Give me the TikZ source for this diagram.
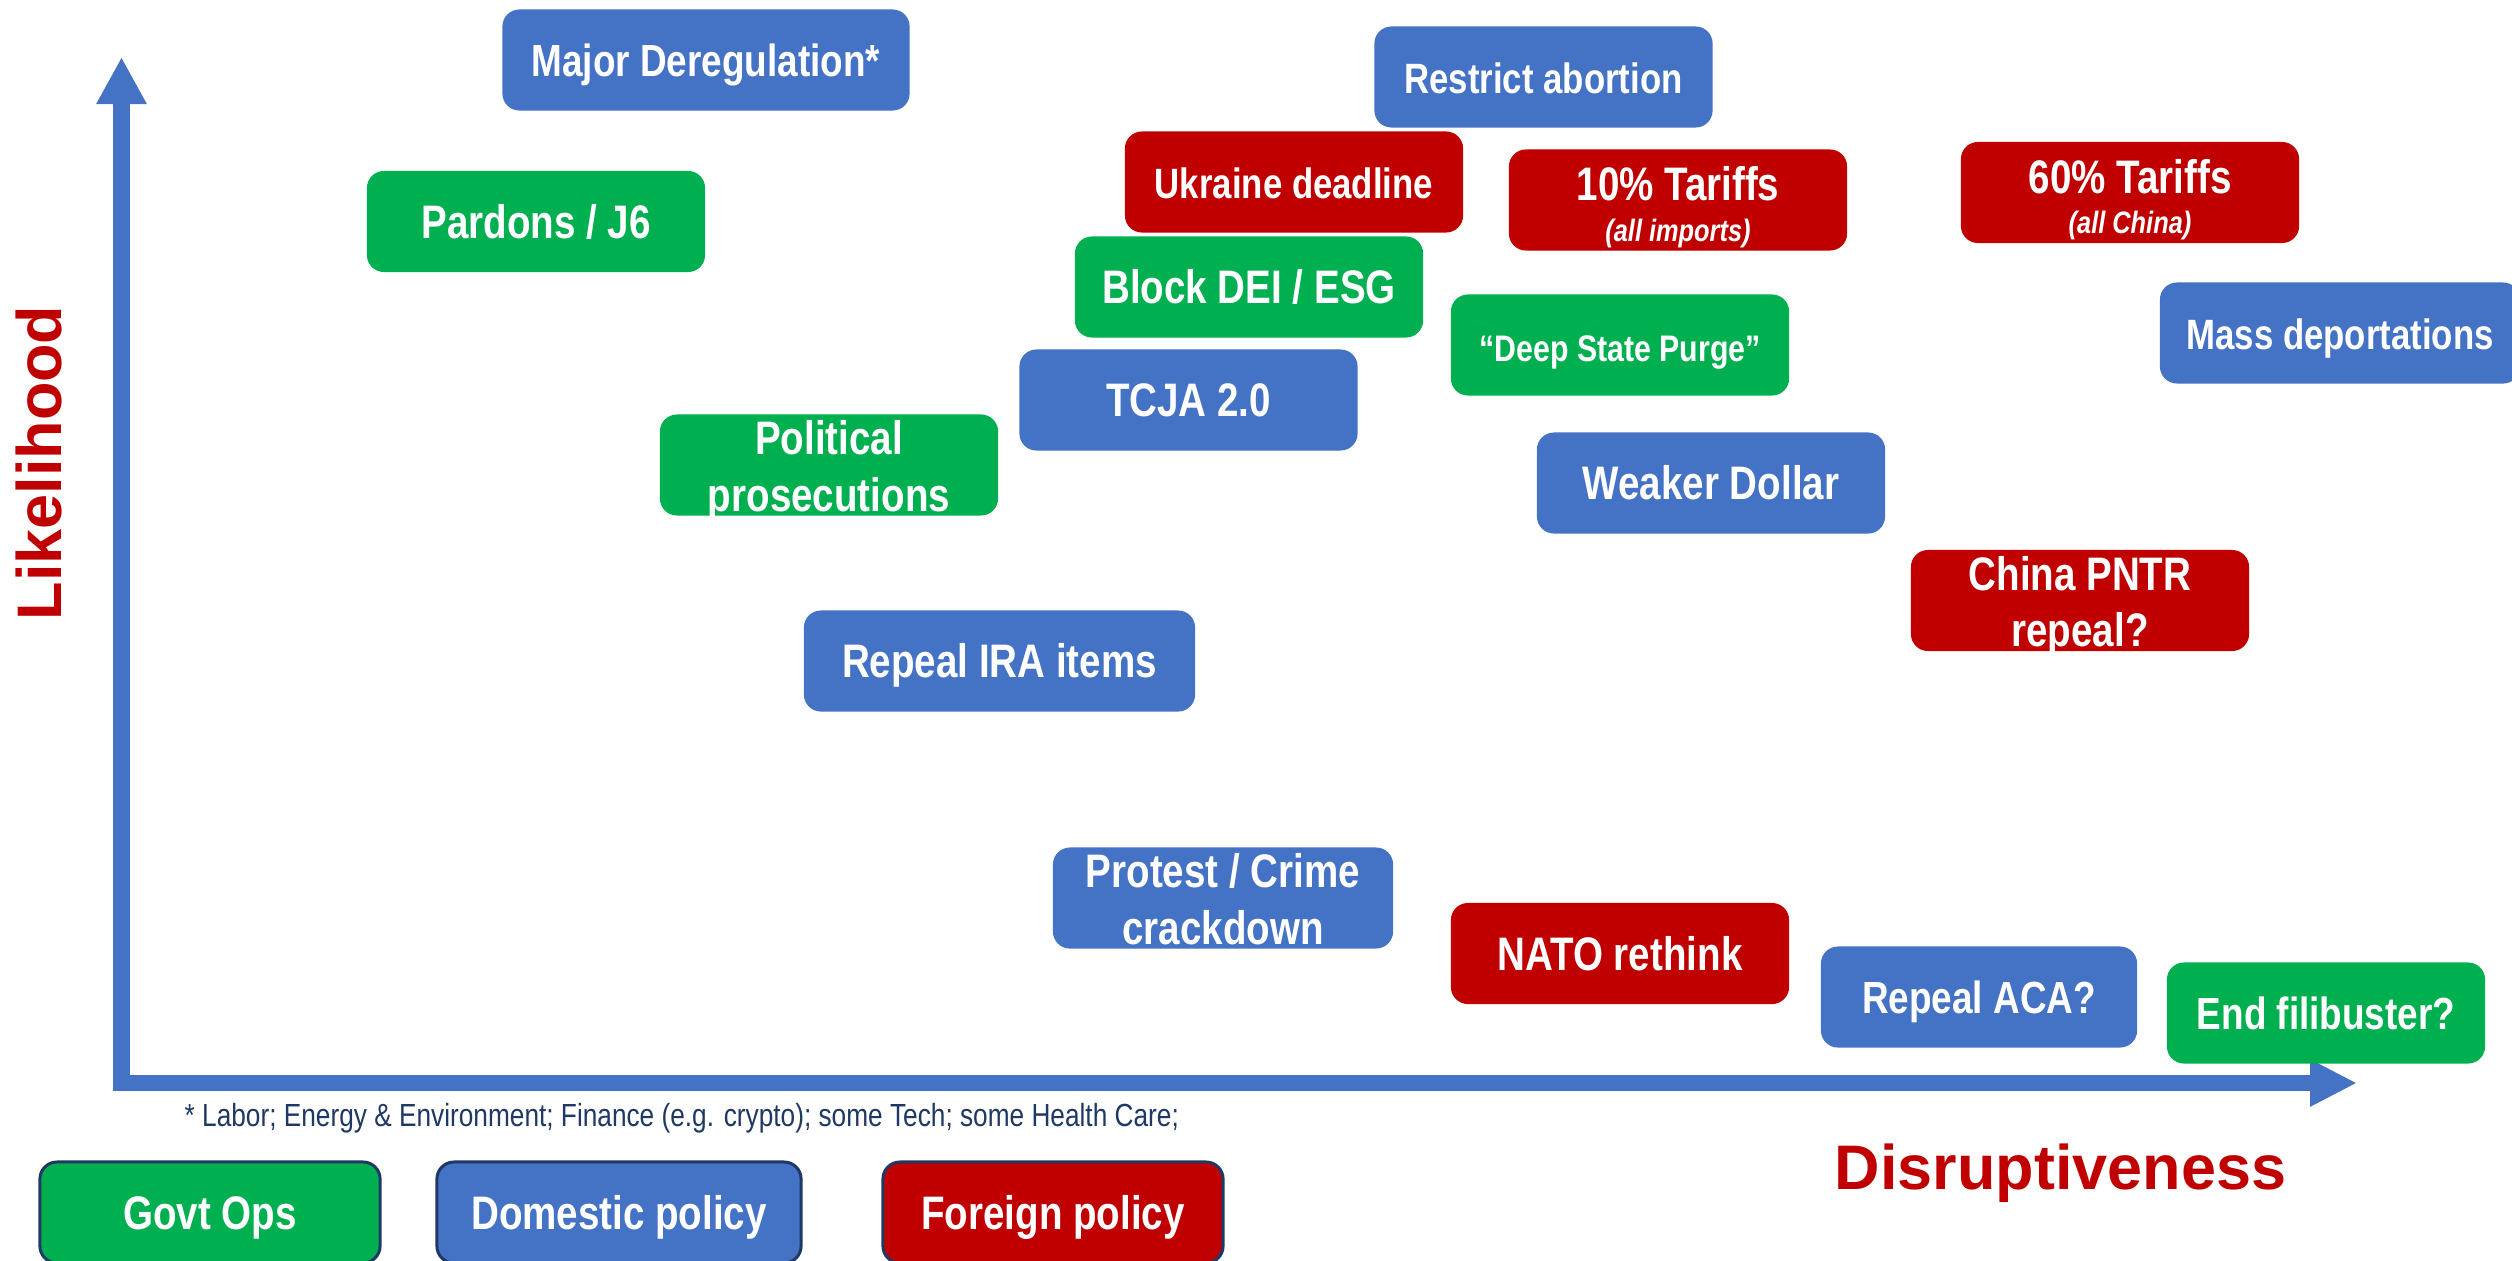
\documentclass[tikz,border=0pt]{standalone}
\usepackage{fontspec}
\setmainfont{Liberation Sans}
\newfontfamily\narrowsans{Liberation Sans}[FakeStretch=0.82]
\usetikzlibrary{arrows.meta}

\definecolor{govtgreen}{HTML}{00B050}
\definecolor{domblue}{HTML}{4472C4}
\definecolor{forred}{HTML}{C00000}
\definecolor{navy}{HTML}{1F3864}

\tikzset{
  card/.style={rounded corners=0.17cm, inner sep=0pt, minimum width=3.38cm, minimum height=1.01cm,
    text=white, align=center, font=\narrowsans\bfseries\fontsize{13.37}{16}\selectfont,
    text height=0.335cm, text depth=0pt},
  cardsize/.style={font=\narrowsans\bfseries\fontsize{#1}{16}\selectfont},
  govt/.style={card, fill=govtgreen},
  dom/.style={card, fill=domblue},
  forn/.style={card, fill=forred},
  twoline/.style={text height=0.92cm, text depth=0pt},
  subline/.style={text height=0.82cm, text depth=0pt},
  keybox/.style={draw=navy, line width=0.85pt},
  axistitle/.style={text=forred, inner sep=0pt, font=\bfseries\fontsize{17.9}{20}\selectfont,
    text height=0.45cm, text depth=0pt},
}
\newcommand{\subnote}[1]{{\itshape\fontsize{8.8}{10}\selectfont #1}}

\begin{document}
\begin{tikzpicture}[x=0.01cm, y=-0.01cm]
  \useasboundingbox (0,0) rectangle (2512,1260);

  \coordinate (O) at (121.5,1083);
  \coordinate (Ytip) at (121.5,57);
  \coordinate (Xtip) at (2357,1083);

  % axes
  \draw[domblue, line width=0.16cm,
    {Triangle[length=0.47cm,width=0.47cm]}-{Triangle[length=0.47cm,width=0.44cm]}]
    (Ytip) -- (O) -- (Xtip);

  % policy cards
  \node[dom, minimum width=4.07cm, cardsize=12.8] (dereg) at (706,60) {Major Deregulation*};
  \node[dom, cardsize=12.06] (abortion) at (1543.5,77) {Restrict abortion};
  \node[forn, cardsize=12.06] (ukraine) at (1294,182) {Ukraine deadline};
  \node[forn, subline] (tariff10) at (1678,200) {10\% Tariffs\\[-4.6pt]\subnote{(all imports)}};
  \node[forn, subline] (tariff60) at (2130,192.5) {60\% Tariffs\\[-4.6pt]\subnote{(all China)}};
  \node[govt] (pardons) at (536,221.5) {Pardons / J6};
  \node[govt, minimum width=3.48cm] (dei) at (1249,287) {Block DEI / ESG};
  \node[govt, cardsize=10.5] (deepstate) at (1620,345) {“Deep State Purge”};
  \node[dom, minimum width=3.6cm, cardsize=12.06] (deport) at (2340,333) {Mass deportations};
  \node[dom] (tcja) at (1188.5,400) {TCJA 2.0};
  \node[govt, twoline] (prosec) at (829,465) {Political\\prosecutions};
  \node[dom, minimum width=3.48cm] (dollar) at (1711,483) {Weaker Dollar};
  \node[forn, twoline] (pntr) at (2080,600.5) {China PNTR\\repeal?};
  \node[dom, minimum width=3.91cm] (ira) at (999.5,661) {Repeal IRA items};
  \node[dom, twoline, minimum width=3.4cm] (protest) at (1223,898) {Protest / Crime\\crackdown};
  \node[forn] (nato) at (1620,953.5) {NATO rethink};
  \node[dom, minimum width=3.16cm, cardsize=12.8] (aca) at (1979,997) {Repeal ACA?};
  \node[govt, minimum width=3.18cm, cardsize=12.8] (filibuster) at (2326,1013) {End filibuster?};

  % legend
  \node[govt, keybox, minimum width=3.4cm] (govtkey) at (210,1212.5) {Govt Ops};
  \node[dom, keybox, minimum width=3.64cm] (domkey) at (619,1212.5) {Domestic policy};
  \node[forn, keybox, minimum width=3.4cm] (forkey) at (1053,1212.5) {Foreign policy};

  % axis titles and note
  \node[axistitle, rotate=90] (likelihood) at (39,463) {Likelihood};
  \node[axistitle] (disrupt) at (2060.5,1166.5) {Disruptiveness};
  \node[anchor=base west, text=navy, inner sep=0pt, font=\narrowsans\fontsize{9.1}{11}\selectfont]
    (footnote) at (184,1126) {* Labor; Energy \& Environment; Finance (e.g. crypto); some Tech; some Health Care;};
\end{tikzpicture}
\end{document}
